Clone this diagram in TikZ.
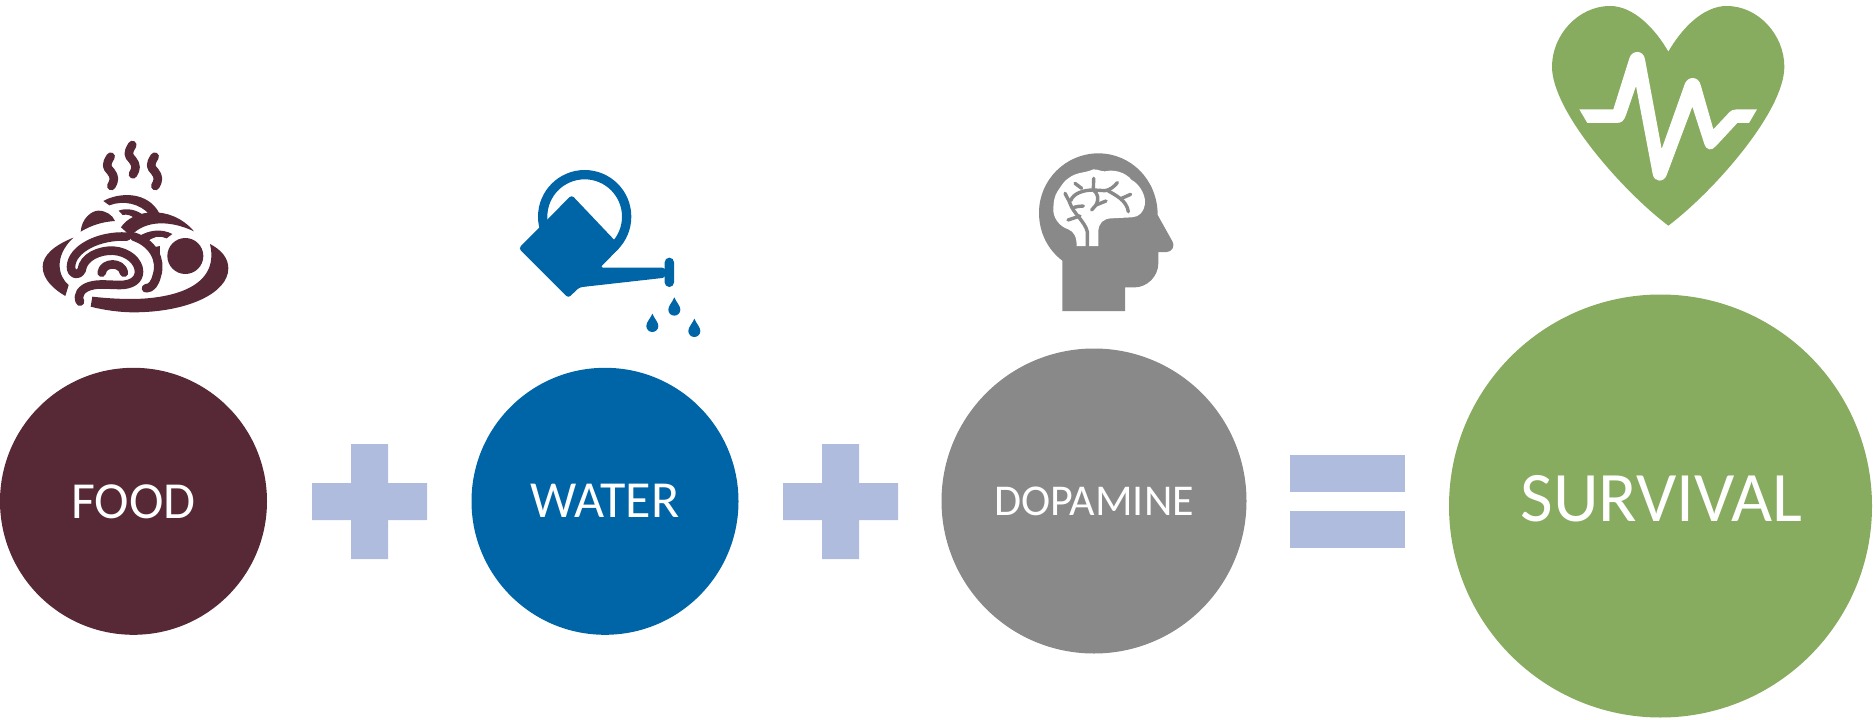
\documentclass[tikz,border=0pt]{standalone}
\usepackage{fontspec}
\setmainfont{Carlito}
\definecolor{foodc}{HTML}{572836}
\definecolor{waterc}{HTML}{0065A6}
\definecolor{dopac}{HTML}{898989}
\definecolor{survc}{HTML}{87AB5F}
\definecolor{opc}{HTML}{AFBCDD}
\tikzset{
  ball/.style={circle,inner sep=0pt,outer sep=0pt,text=white,draw=none},
  sym/.style={fill=opc,draw=none},
  noodle/.style={draw=foodc,line width=8.6pt,line cap=round,line join=round,fill=none},
  vein/.style={draw=dopac,line width=3.4pt,line cap=round,line join=round,fill=none},
}
\begin{document}
\begin{tikzpicture}[x=1pt,y=-1pt]
\useasboundingbox (0,0) rectangle (1874,720);
% main circles
\node[ball,fill=foodc,minimum size=267pt,font=\fontsize{52}{60}\selectfont] (food) at (133.5,501.3) {FOOD};
\node[ball,fill=waterc,minimum size=267pt,font=\fontsize{52}{60}\selectfont] (water) at (605,501.3) {WATER};
\node[ball,fill=dopac,minimum size=305pt,font=\fontsize{44}{52}\selectfont] (dopamine) at (1094,501) {DOPAMINE};
\node[ball,fill=survc,minimum size=423pt] (survival) at (1660.5,506) {};
\node[text=white,inner sep=0pt,font=\fontsize{71}{80}\selectfont] (survivaltext) at (1661.5,499) {SURVIVAL};
% operators
\fill[sym] (351,444) rectangle (388,559) (312,483) rectangle (427,520);
\fill[sym] (822,444) rectangle (859,559) (783,483) rectangle (898,520);
\fill[sym] (1290,455.3) rectangle (1405,492);
\fill[sym] (1290,510.7) rectangle (1405,547.7);
% food icon
\begin{scope}[shift={(20,120)},scale=1/3]
\foreach \dx/\dy in {0/0,65/-35,132/0}{
  \draw[noodle,shift={(\dx,\dy)}] (272,110) .. controls (256,135) and (260,142) .. (272,154) .. controls (285,170) and (284,182) .. (274,198);
}
\fill[foodc] (160,353) .. controls (105,375) and (68,405) .. (68,440) .. controls (68,480) and (105,510) .. (136,528) -- (146,495) .. controls (115,470) and (100,410) .. (160,353) -- cycle;
\fill[foodc] (570,372) .. controls (605,390) and (625,415) .. (625,445) .. controls (625,520) and (500,577) .. (340,577) .. controls (300,577) and (250,570) .. (212,560) -- (217,530) .. controls (260,535) and (300,537) .. (340,537) .. controls (460,535) and (600,500) .. (570,372) -- cycle;
\fill[foodc] (496,408) circle[radius=54];
\fill[foodc] (182,335) .. controls (185,295) and (215,272) .. (235,272) .. controls (258,272) and (278,285) .. (285,303) .. controls (250,305) and (215,315) .. (182,335) -- cycle;
% spiral
\draw[noodle] (320,350) .. controls (240,345) and (155,385) .. (153,440) .. controls (153,465) and (175,470) .. (185,450) .. controls (190,410) and (240,390) .. (280,392) .. controls (325,395) and (357,425) .. (357,455) .. controls (357,480) and (335,495) .. (300,495) .. controls (270,495) and (235,490) .. (210,498) .. controls (185,505) and (170,525) .. (180,545);
\draw[noodle] (245,458) .. controls (250,425) and (305,425) .. (312,458);
\draw[noodle] (342,350) .. controls (400,370) and (425,420) .. (411,465) .. controls (405,490) and (395,505) .. (378,505);
% upper noodles
\fill[foodc] (250,243) .. controls (300,215) and (385,215) .. (418,280) -- (390,285) .. controls (360,250) and (310,240) .. (268,256) -- cycle;
\fill[foodc] (303,322) .. controls (335,270) and (450,250) .. (522,334) .. controls (450,300) and (375,300) .. (332,348) -- cycle;
\fill[foodc] (296,272) .. controls (320,262) and (355,270) .. (372,288) -- (345,297) .. controls (335,285) and (320,282) .. (308,285) -- cycle;
\fill[foodc] (355,350) .. controls (385,330) and (425,325) .. (457,342) -- (440,355) .. controls (420,345) and (395,350) .. (380,368) -- cycle;
\fill[foodc] (385,385) -- (420,378) -- (420,405) -- (405,405) -- cycle;
\end{scope}
% watering can
\begin{scope}[shift={(500,150)},scale=1/3]
\draw[waterc,line width=9.3pt] (254,200) circle[radius=126];
\fill[waterc,rounded corners=3pt] (215,135) -- (362,290) -- (300,353) -- (496,353) -- (496,383) -- (238,412) -- (205,444) -- (56,295) -- cycle;
\fill[waterc,rounded corners=4.6pt] (494,323) rectangle (522,411);
\foreach \cx/\cy in {523/479,457/528,583/543}{
  \fill[waterc,shift={(\cx,\cy)}] (0,-37) .. controls (6,-22) and (18,-12) .. (18,0) arc[start angle=0,end angle=180,radius=18] .. controls (-18,-12) and (-6,-22) .. (0,-37) -- cycle;
}
\end{scope}
% head
\begin{scope}[shift={(1030,130)},scale=1/3]
\fill[dopac] (97,543) -- (97,392) .. controls (55,360) and (27,310) .. (27,248) .. controls (27,150) and (107,70) .. (205,70) .. controls (303,70) and (383,150) .. (383,255) -- (426,332) .. controls (437,350) and (425,366) .. (410,366) -- (385,366) -- (385,400) .. controls (385,440) and (350,472) .. (315,472) -- (285,472) -- (285,543) -- cycle;
\fill[white] (140,348) .. controls (140,320) and (132,305) .. (115,298) .. controls (90,290) and (68,265) .. (70,235) .. controls (70,215) and (75,195) .. (82,185) .. controls (95,165) and (105,150) .. (115,145) .. controls (140,125) and (165,130) .. (190,118) .. controls (205,118) and (215,125) .. (225,124) .. controls (250,118) and (285,125) .. (305,150) .. controls (325,160) and (345,190) .. (345,215) .. controls (345,245) and (325,262) .. (305,262) -- (245,265) .. controls (220,265) and (205,280) .. (205,305) -- (205,348) -- cycle;
\draw[vein] (172,350) -- (172,305) .. controls (165,275) and (130,250) .. (120,220) .. controls (115,205) and (108,200) .. (105,190);
\draw[vein] (150,258) -- (114,270);
\draw[vein] (132,232) .. controls (140,228) and (150,230) .. (160,228);
\draw[vein] (122,212) .. controls (130,190) and (160,180) .. (190,180) .. controls (203,190) and (208,205) .. (198,225) -- (185,240);
\draw[vein] (198,225) -- (228,213);
\draw[vein] (190,180) -- (191,145);
\draw[vein] (135,160) -- (155,175);
\draw[vein] (190,180) -- (225,182) .. controls (240,180) and (252,170) .. (262,158);
\draw[vein] (232,181) .. controls (255,195) and (290,210) .. (295,245);
\draw[vein] (275,205) -- (302,193);
\end{scope}
% heart
\begin{scope}[shift={(1530,0)},scale=1/3]
\fill[survc] (415,155) .. controls (375,85) and (310,18) .. (240,18) .. controls (145,18) and (66,105) .. (66,200) .. controls (66,335) and (280,575) .. (415,677) .. controls (550,575) and (763,335) .. (763,200) .. controls (763,105) and (685,18) .. (590,18) .. controls (520,18) and (455,85) .. (415,155) -- cycle;
\fill[white] (148,328) -- (250,328) -- (298,175) .. controls (305,150) and (340,148) .. (345,178) -- (395,447) -- (465,250) .. controls (475,228) and (505,228) .. (512,255) -- (550,388) -- (595,340) .. controls (603,331) and (610,328) .. (620,328) -- (681,328) -- (657,369) -- (622,369) -- (558,438) .. controls (545,453) and (530,452) .. (523,432) -- (487,320) -- (410,525) .. controls (402,548) and (372,548) .. (368,522) -- (318,258) -- (288,345) .. controls (282,362) and (275,369) .. (260,369) -- (172,369) -- cycle;
\end{scope}
\end{tikzpicture}
\end{document}
